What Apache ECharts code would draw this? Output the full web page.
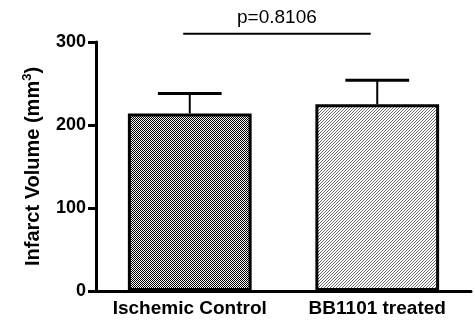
<!DOCTYPE html>
<html><head><meta charset="utf-8">
<script src="https://cdn.jsdelivr.net/npm/echarts@6/dist/echarts.min.js"></script>
<style>html,body{margin:0;padding:0;background:#fff}#c{width:475px;height:321px}</style>
</head><body><div id="c"></div>
<script>
const categories = ['Ischemic Control', 'BB1101 treated'];
const means = [214, 225];
const errTops = [238, 254];
const yTicks = [0, 100, 200, 300];
const pLabel = 'p=0.8106';
const pLineValue = 310;

function makePattern(kind) {
  const c = document.createElement('canvas');
  const ctx = c.getContext('2d');
  if (kind === 'checker') {
    c.width = 2; c.height = 2;
    ctx.fillStyle = '#f0f0f0'; ctx.fillRect(0, 0, 2, 2);
    ctx.fillStyle = '#000'; ctx.fillRect(0, 0, 1, 1); ctx.fillRect(1, 1, 1, 1);
  } else {
    c.width = 3; c.height = 3;
    ctx.fillStyle = '#fff'; ctx.fillRect(0, 0, 3, 3);
    ctx.fillStyle = '#6a6a6a';
    ctx.fillRect(2, 0, 1, 1); ctx.fillRect(1, 1, 1, 1); ctx.fillRect(0, 2, 1, 1);
  }
  return { image: c, repeat: 'repeat' };
}
const patterns = [makePattern('checker'), makePattern('diag')];
const FONT = 'Liberation Sans, Arial, Helvetica, sans-serif';

const chart = echarts.init(document.getElementById('c'), null, { renderer: 'canvas' });
chart.setOption({
  animation: false,
  backgroundColor: '#fff',
  grid: { left: 96, right: 4, top: 42, bottom: 30, containLabel: false },
  xAxis: {
    type: 'category',
    data: categories,
    axisLine: { lineStyle: { color: '#000', width: 3 } },
    axisTick: { alignWithLabel: true, length: 5, lineStyle: { color: '#000', width: 3 } },
    axisLabel: { interval: 0, color: '#000', fontFamily: FONT, fontWeight: 'bold', fontSize: 19, margin: 8 }
  },
  yAxis: {
    type: 'value',
    min: yTicks[0], max: yTicks[yTicks.length - 1], interval: 100,
    name: 'Infarct Volume (mm{sup|3})',
    nameLocation: 'middle',
    nameGap: 50,
    nameTextStyle: {
      color: '#000', fontFamily: FONT, fontWeight: 'bold', fontSize: 20, lineHeight: 24,
      rich: { sup: { fontFamily: FONT, fontWeight: 'bold', fontSize: 13, verticalAlign: 'top', lineHeight: 24, color: '#000' } }
    },
    splitLine: { show: false },
    axisLine: { show: true, lineStyle: { color: '#000', width: 3 } },
    axisTick: { show: true, length: 8, lineStyle: { color: '#000', width: 3 } },
    axisLabel: { color: '#000', fontFamily: FONT, fontWeight: 'bold', fontSize: 18, margin: 10 }
  },
  series: [
    {
      type: 'bar',
      barWidth: '66%',
      data: means.map((v, i) => ({ value: v, itemStyle: { color: patterns[i] } })),
      itemStyle: { borderColor: '#000', borderWidth: 3 }
    },
    {
      type: 'custom',
      data: means.map((v, i) => [i, v, errTops[i]]),
      renderItem: function (params, api) {
        const base = api.coord([api.value(0), api.value(1)]);
        const top = api.coord([api.value(0), api.value(2)]);
        const band = api.size([1, 0])[0];
        const half = band * 0.17;
        return {
          type: 'group',
          children: [
            { type: 'line', shape: { x1: base[0], y1: base[1], x2: top[0], y2: top[1] }, style: { stroke: '#000', lineWidth: 2 } },
            { type: 'line', shape: { x1: top[0] - half, y1: top[1], x2: top[0] + half, y2: top[1] }, style: { stroke: '#000', lineWidth: 3 } }
          ]
        };
      },
      z: 1
    },
    {
      type: 'custom',
      clip: false,
      data: [[0, 1, pLineValue]],
      renderItem: function (params, api) {
        const a = api.coord([api.value(0), api.value(2)]);
        const b = api.coord([api.value(1), api.value(2)]);
        const off = api.size([1, 0])[0] * 0.035;
        const x1 = a[0] - off, x2 = b[0] - off, y = a[1];
        return {
          type: 'group',
          children: [
            { type: 'line', shape: { x1: x1, y1: y, x2: x2, y2: y }, style: { stroke: '#000', lineWidth: 2 } },
            { type: 'text', x: (x1 + x2) / 2, y: y - 6, style: { text: pLabel, fill: '#000', font: 'normal 19px ' + FONT, textAlign: 'center', textVerticalAlign: 'bottom' } }
          ]
        };
      }
    }
  ]
});
</script>
</body></html>
